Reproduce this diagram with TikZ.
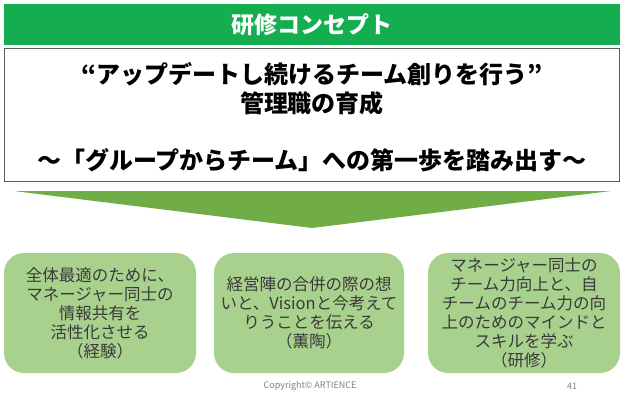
\documentclass[tikz,border=0pt]{standalone}
\usepackage{fontspec}
\newfontfamily\jpfont{Noto Sans CJK JP}
\definecolor{headgreen}{HTML}{14AD50}
\definecolor{arrowgreen}{HTML}{70AD47}
\definecolor{boxgreen}{HTML}{A9D18E}
\definecolor{boxtext}{HTML}{3A3A3A}
\definecolor{framegray}{HTML}{5A5A5A}
\tikzset{
  headbox/.style={fill=headgreen,minimum width=616pt,minimum height=41pt,
    text=white,font=\jpfont\bfseries\fontsize{23}{25}\selectfont},
  mainbox/.style={draw=framegray,line width=1.2pt,fill=white,
    minimum width=615pt,minimum height=133pt},
  maintext/.style={align=center,text=black,
    font=\jpfont\bfseries\fontsize{24}{28.5}\selectfont},
  stepbox/.style={fill=boxgreen,rounded corners=20pt,minimum width=192pt,
    minimum height=120pt,align=center,text=boxtext,inner sep=2pt,
    font=\jpfont\fontsize{16.5}{19}\selectfont},
  foot/.style={text=gray,font=\jpfont\fontsize{9}{10}\selectfont}
}
\begin{document}
\begin{tikzpicture}[x=1pt,y=-1pt]
	\useasboundingbox (0,0) rectangle (624,400);
	\node[headbox] (head) at (312,24.5) {研修コンセプト};
	\node[mainbox] (main) at (312,115) {};
	\node[maintext] (goal) at (312,117) {“アップデートし続けるチーム創りを行う”\\管理職の育成\\[28.5pt]～「グループからチーム」への第一歩を踏み出す～};
	\fill[arrowgreen] (14,191) -- (611,191) -- (312,228) -- cycle;
	\node[stepbox] (exp) at (100,313) {全体最適のために、\\マネージャー同士の\\情報共有を\\活性化させる\\（経験）};
	\node[stepbox,minimum width=190pt] (talk) at (309,313) {経営陣の合併の際の想\\いと、Visionと今考えて\\りうことを伝える\\（薫陶）};
	\node[stepbox] (train) at (524,313) {マネージャー同士の\\チーム力向上と、自\\チームのチーム力の向\\上のためのマインドと\\スキルを学ぶ\\（研修）};
	\node[foot] (copy) at (310,386) {Copyright© ARTIENCE};
	\node[foot] (page) at (572,386) {41};
\end{tikzpicture}
\end{document}
